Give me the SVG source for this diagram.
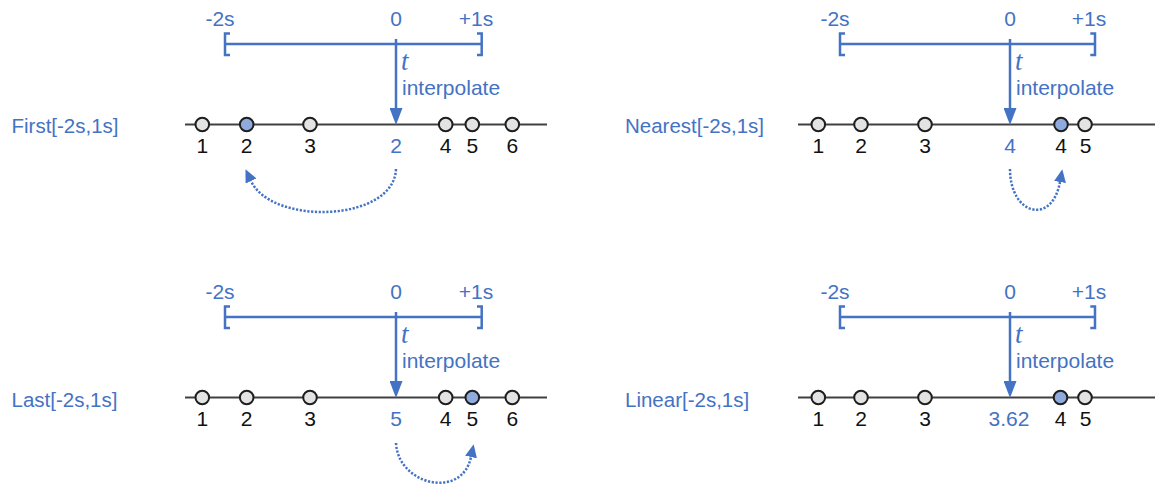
<svg xmlns="http://www.w3.org/2000/svg" width="1155" height="485" viewBox="0 0 1155 485">
<style>
text{font-family:"Liberation Sans",Arial,sans-serif;font-size:21px}
.lbl{fill:#4472C4;font-size:20.5px}
.bl{fill:#4472C4;text-anchor:middle}
.it{fill:#4472C4;font-family:"Liberation Serif","Times New Roman",serif;font-style:italic;font-size:27px}
.ip{fill:#4472C4}
.num{fill:#111;text-anchor:middle}
.s{fill:#e3e3e3;stroke:#1e1e1e;stroke-width:2}
.hl{fill:#8FAADC}
.axis{stroke:#404040;stroke-width:2;fill:none}
.br{stroke:#4472C4;stroke-width:2.5;fill:none}
.arr{stroke:#4472C4;stroke-width:2.5;fill:none;marker-end:url(#ah)}
.dot{stroke:#4472C4;stroke-width:2.5;stroke-dasharray:2.2 1.6;fill:none;marker-end:url(#dh)}
</style>
<defs>
<marker id="ah" viewBox="0 0 17 13" refX="0" refY="6.5" markerWidth="17" markerHeight="13" markerUnits="userSpaceOnUse" orient="auto"><path d="M0,0 L17,6.5 L0,13 z" fill="#4472C4"/></marker>
<marker id="dh" viewBox="0 0 13 12" refX="0" refY="6" markerWidth="13" markerHeight="12" markerUnits="userSpaceOnUse" orient="auto"><path d="M0,0 L13,6 L0,12 z" fill="#4472C4"/></marker>
</defs>

<!-- Panel 1: First -->
<g id="first-label"><text class="lbl" x="11.5" y="133">First[-2s,1s]</text></g>
<g id="first-window">
<path class="br" d="M230,33.5 H225 V55 H230 M225,44 H481.7 M477,33.5 H481.7 V55 H477"/>
<text class="bl" x="220" y="26">-2s</text>
<text class="bl" x="396" y="26">0</text>
<text class="bl" x="476" y="26">+1s</text>
<text class="it" x="401" y="70">t</text>
<text class="ip" x="402" y="95">interpolate</text>
</g>
<g id="first-axis">
<line class="axis" x1="185" y1="124.5" x2="547" y2="124.5"/>
<text class="bl" x="396" y="153">2</text>
</g>
<g id="first-s1"><circle class="s" cx="202.3" cy="124.5" r="6.8"/><text class="num" x="202.3" y="153">1</text></g>
<g id="first-s2"><circle class="s hl" cx="246.7" cy="124.5" r="6.8"/><text class="num" x="246.7" y="153">2</text></g>
<g id="first-s3"><circle class="s" cx="310" cy="124.5" r="6.8"/><text class="num" x="310" y="153">3</text></g>
<g id="first-s4"><circle class="s" cx="445.7" cy="124.5" r="6.8"/><text class="num" x="445.7" y="153">4</text></g>
<g id="first-s5"><circle class="s" cx="472.3" cy="124.5" r="6.8"/><text class="num" x="472.3" y="153">5</text></g>
<g id="first-s6"><circle class="s" cx="512.3" cy="124.5" r="6.8"/><text class="num" x="512.3" y="153">6</text></g>

<!-- Panel 2: Nearest -->
<g id="nearest-label"><text class="lbl" x="625" y="133">Nearest[-2s,1s]</text></g>
<g id="nearest-window">
<path class="br" d="M845,33.5 H840 V55 H845 M840,44 H1095 M1090.3,33.5 H1095 V55 H1090.3"/>
<text class="bl" x="835" y="26">-2s</text>
<text class="bl" x="1010" y="26">0</text>
<text class="bl" x="1089" y="26">+1s</text>
<text class="it" x="1015" y="70">t</text>
<text class="ip" x="1016" y="95">interpolate</text>
</g>
<g id="nearest-axis">
<line class="axis" x1="798" y1="124.5" x2="1155" y2="124.5"/>
<text class="bl" x="1010" y="153">4</text>
</g>
<g id="nearest-s1"><circle class="s" cx="818.3" cy="124.5" r="6.8"/><text class="num" x="818.3" y="153">1</text></g>
<g id="nearest-s2"><circle class="s" cx="861" cy="124.5" r="6.8"/><text class="num" x="861" y="153">2</text></g>
<g id="nearest-s3"><circle class="s" cx="925" cy="124.5" r="6.8"/><text class="num" x="925" y="153">3</text></g>
<g id="nearest-s4"><circle class="s hl" cx="1061" cy="124.5" r="6.8"/><text class="num" x="1061" y="153">4</text></g>
<g id="nearest-s5"><circle class="s" cx="1085" cy="124.5" r="6.8"/><text class="num" x="1085.5" y="153">5</text></g>

<!-- Panel 3: Last -->
<g id="last-label"><text class="lbl" x="11.5" y="407">Last[-2s,1s]</text></g>
<g id="last-window">
<path class="br" d="M230,306.5 H225 V328 H230 M225,317 H481.7 M477,306.5 H481.7 V328 H477"/>
<text class="bl" x="220" y="299">-2s</text>
<text class="bl" x="396" y="299">0</text>
<text class="bl" x="476" y="299">+1s</text>
<text class="it" x="401" y="343">t</text>
<text class="ip" x="402" y="368">interpolate</text>
</g>
<g id="last-axis">
<line class="axis" x1="185" y1="397.5" x2="547" y2="397.5"/>
<text class="bl" x="396" y="426">5</text>
</g>
<g id="last-s1"><circle class="s" cx="202.3" cy="397.5" r="6.8"/><text class="num" x="202.3" y="426">1</text></g>
<g id="last-s2"><circle class="s" cx="246.7" cy="397.5" r="6.8"/><text class="num" x="246.7" y="426">2</text></g>
<g id="last-s3"><circle class="s" cx="310" cy="397.5" r="6.8"/><text class="num" x="310" y="426">3</text></g>
<g id="last-s4"><circle class="s" cx="445.7" cy="397.5" r="6.8"/><text class="num" x="445.7" y="426">4</text></g>
<g id="last-s5"><circle class="s hl" cx="472.3" cy="397.5" r="6.8"/><text class="num" x="472.3" y="426">5</text></g>
<g id="last-s6"><circle class="s" cx="512.3" cy="397.5" r="6.8"/><text class="num" x="512.3" y="426">6</text></g>

<!-- Panel 4: Linear -->
<g id="linear-label"><text class="lbl" x="625" y="407">Linear[-2s,1s]</text></g>
<g id="linear-window">
<path class="br" d="M845,306.5 H840 V328 H845 M840,317 H1095 M1090.3,306.5 H1095 V328 H1090.3"/>
<text class="bl" x="835" y="299">-2s</text>
<text class="bl" x="1010" y="299">0</text>
<text class="bl" x="1089" y="299">+1s</text>
<text class="it" x="1015" y="343">t</text>
<text class="ip" x="1016" y="368">interpolate</text>
</g>
<g id="linear-axis">
<line class="axis" x1="798" y1="397.5" x2="1155" y2="397.5"/>
<text class="bl" x="1009" y="426">3.62</text>
</g>
<g id="linear-s1"><circle class="s" cx="818.3" cy="397.5" r="6.8"/><text class="num" x="818.3" y="426">1</text></g>
<g id="linear-s2"><circle class="s" cx="861" cy="397.5" r="6.8"/><text class="num" x="861" y="426">2</text></g>
<g id="linear-s3"><circle class="s" cx="925" cy="397.5" r="6.8"/><text class="num" x="925" y="426">3</text></g>
<g id="linear-s4"><circle class="s hl" cx="1060.5" cy="397.5" r="6.8"/><text class="num" x="1060.5" y="426">4</text></g>
<g id="linear-s5"><circle class="s" cx="1085" cy="397.5" r="6.8"/><text class="num" x="1085.5" y="426">5</text></g>

<g id="connectors">
<line class="arr" x1="396" y1="39" x2="396" y2="108"/>
<line class="arr" x1="1010" y1="39" x2="1010" y2="108"/>
<line class="arr" x1="396" y1="312" x2="396" y2="381"/>
<line class="arr" x1="1010" y1="312" x2="1010" y2="381"/>
<path class="dot" d="M396,169 C394,222 272,226 251,181"/>
<path class="dot" d="M1010,169 C1010,215 1052,226 1060,182"/>
<path class="dot" d="M396,443 C398,485 462,500 471,457"/>
</g>
</svg>
